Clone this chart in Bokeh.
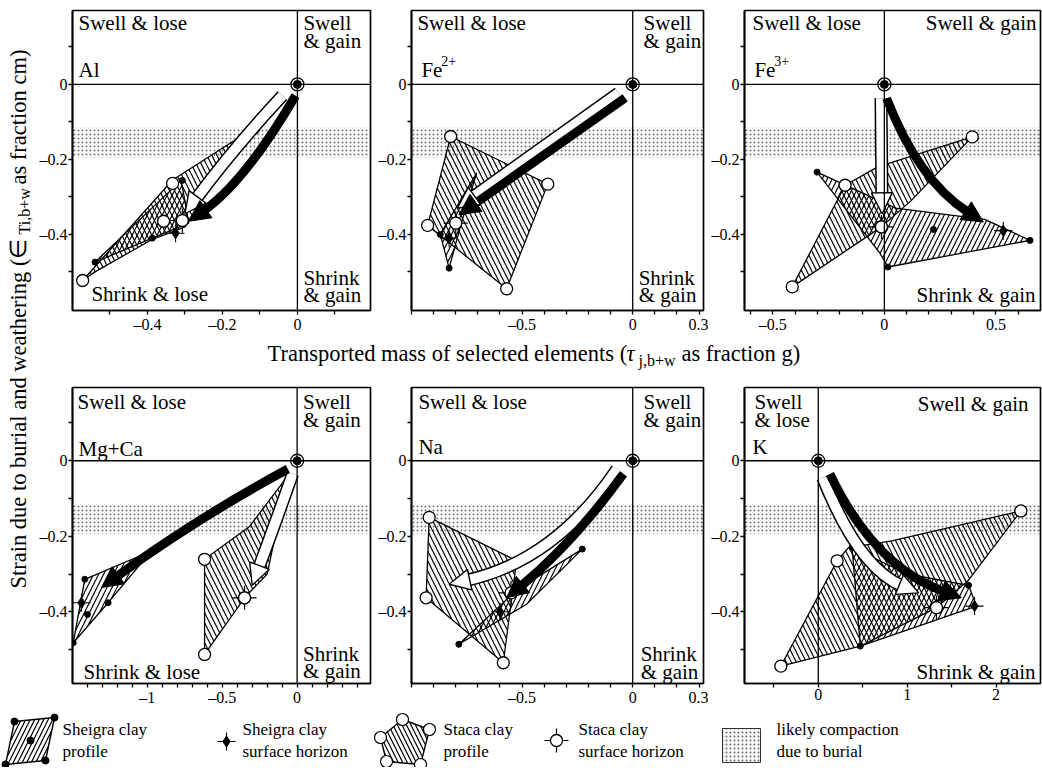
import math
from bokeh.plotting import figure
from bokeh.layouts import row, column
from bokeh.models import Range1d, FixedTicker, Span, Arrow, NormalHead, CustomJSTickFormatter
from bokeh.core.properties import value
from bokeh.embed import file_html
from bokeh.resources import INLINE

SERIF = "Liberation Serif"
ASC = 0.891  # ascent of the serif face, in em (used to place text by its baseline)

# ------------------------------------------------------------------ shared axes
TOP_Y_RANGE = (-0.603, 0.197)
BOT_Y_RANGE = (-0.59, 0.194)
Y_MAJOR = [-0.4, -0.2, 0.0]
Y_MINOR = [-0.5, -0.3, -0.1, 0.1]
COMPACTION_TOP = -0.115
COMPACTION_BOTTOM = -0.195

# ------------------------------------------------------------------ Al
AL_X_RANGE = (-0.6, 0.195)
AL_X_MAJOR = [-0.4, -0.2, 0.0]
AL_X_MINOR = [-0.5, -0.3, -0.1, 0.1]
AL_STACA_X = [-0.573, -0.333, -0.117, -0.25, -0.30, -0.39, -0.54]
AL_STACA_Y = [-0.523, -0.255, -0.117, -0.30, -0.38, -0.415, -0.50]
AL_SHEIGRA_X = [-0.54, -0.31, -0.29, -0.387]
AL_SHEIGRA_Y = [-0.474, -0.256, -0.37, -0.41]
AL_STACA_PTS_X = [-0.573, -0.333, -0.357, -0.117]
AL_STACA_PTS_Y = [-0.523, -0.264, -0.365, -0.117]
AL_SHEIGRA_PTS_X = [-0.54, -0.387, -0.307]
AL_SHEIGRA_PTS_Y = [-0.474, -0.41, -0.256]
AL_SHEIGRA_SURF = (-0.325, -0.397)
AL_STACA_SURF = (-0.307, -0.363)
AL_WHITE = [(-0.04, -0.03), (-0.17, -0.17), (-0.30, -0.345)]
AL_BLACK = [(-0.005, -0.03), (-0.14, -0.26), (-0.29, -0.365)]

# ------------------------------------------------------------------ Fe2+
FE2_X_RANGE = (-1.0, 0.32)
FE2_X_MAJOR = [-0.5, 0.0, 0.3]
FE2_X_MINOR = [-1.0, -0.9, -0.8, -0.7, -0.6, -0.4, -0.3, -0.2, -0.1, 0.1, 0.2]
FE2_STACA_X = [-0.823, -0.384, -0.570, -0.927]
FE2_STACA_Y = [-0.139, -0.266, -0.545, -0.376]
FE2_SHEIGRA_X = [-0.83, -0.87, -0.705, -0.77]
FE2_SHEIGRA_Y = [-0.49, -0.40, -0.236, -0.36]
FE2_STACA_PTS_X = [-0.823, -0.384, -0.570, -0.927]
FE2_STACA_PTS_Y = [-0.139, -0.266, -0.545, -0.376]
FE2_SHEIGRA_PTS_X = [-0.83, -0.87]
FE2_SHEIGRA_PTS_Y = [-0.49, -0.40]
FE2_SHEIGRA_SURF = (-0.83, -0.41)
FE2_STACA_SURF = (-0.80, -0.37)
FE2_WHITE = [(-0.064, -0.023), (-0.43, -0.177), (-0.793, -0.33)]
FE2_BLACK = [(-0.034, -0.036), (-0.41, -0.192), (-0.786, -0.348)]

# ------------------------------------------------------------------ Fe3+
FE3_X_RANGE = (-0.627, 0.70)
FE3_X_MAJOR = [-0.5, 0.0, 0.5]
FE3_X_MINOR = [-0.6, -0.4, -0.3, -0.2, -0.1, 0.1, 0.2, 0.3, 0.4, 0.6]
FE3_STACA_X = [-0.413, -0.176, -0.03, 0.394, 0.12, -0.013]
FE3_STACA_Y = [-0.540, -0.269, -0.22, -0.140, -0.31, -0.380]
FE3_SHEIGRA_X = [-0.302, 0.05, 0.45, 0.653, 0.016, -0.02]
FE3_SHEIGRA_Y = [-0.234, -0.33, -0.36, -0.416, -0.487, -0.45]
FE3_STACA_PTS_X = [-0.413, -0.176, -0.013, 0.394]
FE3_STACA_PTS_Y = [-0.540, -0.269, -0.380, -0.140]
FE3_SHEIGRA_PTS_X = [-0.302, 0.653, 0.016, 0.22]
FE3_SHEIGRA_PTS_Y = [-0.234, -0.416, -0.487, -0.387]
FE3_SHEIGRA_SURF = (0.533, -0.39)
FE3_STACA_SURF = (-0.013, -0.38)
FE3_WHITE = [(-0.015, -0.037), (-0.013, -0.19), (-0.01, -0.345)]
FE3_BLACK = [(0.01, -0.037), (0.152, -0.256), (0.444, -0.367)]

# ------------------------------------------------------------------ Mg+Ca
MGCA_X_RANGE = (-1.5, 0.49)
MGCA_X_MAJOR = [-1.0, -0.5, 0.0]
MGCA_X_MINOR = [-1.4, -1.3, -1.2, -1.1, -0.9, -0.8, -0.7, -0.6, -0.4, -0.3, -0.2, -0.1, 0.1, 0.2, 0.3, 0.4]
MGCA_STACA_X = [-0.618, -0.32, -0.062, -0.20, -0.351, -0.618]
MGCA_STACA_Y = [-0.261, -0.175, -0.04, -0.30, -0.363, -0.513]
MGCA_SHEIGRA_X = [-1.495, -1.418, -0.973, -1.262]
MGCA_SHEIGRA_Y = [-0.482, -0.314, -0.239, -0.376]
MGCA_STACA_PTS_X = [-0.618, -0.618, -0.351]
MGCA_STACA_PTS_Y = [-0.261, -0.513, -0.363]
MGCA_SHEIGRA_PTS_X = [-1.418, -0.973, -1.262, -1.40, -1.495]
MGCA_SHEIGRA_PTS_Y = [-0.314, -0.239, -0.376, -0.407, -0.482]
MGCA_SHEIGRA_SURF = (-1.44, -0.376)
MGCA_STACA_SURF = (-0.351, -0.363)
MGCA_WHITE = [(-0.03, -0.035), (-0.15, -0.17), (-0.30, -0.33)]
MGCA_BLACK = [(-0.062, -0.022), (-0.66, -0.15), (-1.307, -0.336)]

# ------------------------------------------------------------------ Na
NA_X_RANGE = (-1.0, 0.32)
NA_X_MAJOR = [-0.5, 0.0, 0.3]
NA_X_MINOR = [-1.0, -0.9, -0.8, -0.7, -0.6, -0.4, -0.3, -0.2, -0.1, 0.1, 0.2]
NA_STACA_X = [-0.920, -0.525, -0.585, -0.934]
NA_STACA_Y = [-0.150, -0.265, -0.535, -0.363]
NA_SHEIGRA_X = [-0.786, -0.52, -0.228, -0.48]
NA_SHEIGRA_Y = [-0.486, -0.34, -0.234, -0.38]
NA_STACA_PTS_X = [-0.920, -0.934, -0.585]
NA_STACA_PTS_Y = [-0.150, -0.363, -0.535]
NA_SHEIGRA_PTS_X = [-0.786, -0.228, -0.52]
NA_SHEIGRA_PTS_Y = [-0.486, -0.234, -0.34]
NA_SHEIGRA_SURF = (-0.60, -0.40)
NA_STACA_SURF = (-0.55, -0.35)
NA_WHITE = [(-0.071, -0.022), (-0.35, -0.265), (-0.830, -0.327)]
NA_BLACK = [(-0.042, -0.035), (-0.274, -0.221), (-0.570, -0.363)]

# ------------------------------------------------------------------ K
K_X_RANGE = (-0.83, 2.50)
K_X_MAJOR = [0.0, 1.0, 2.0]
K_X_MINOR = [-0.5, 0.5, 1.5]
K_STACA_X = [-0.421, 0.212, 0.34, 0.827, 2.279, 1.684, 1.33, 0.473]
K_STACA_Y = [-0.544, -0.265, -0.23, -0.212, -0.133, -0.318, -0.389, -0.491]
K_SHEIGRA_X = [0.38, 1.0, 1.69, 1.78, 0.473]
K_SHEIGRA_Y = [-0.23, -0.30, -0.33, -0.385, -0.491]
K_STACA_PTS_X = [-0.421, 0.212, 1.33, 2.279]
K_STACA_PTS_Y = [-0.544, -0.265, -0.389, -0.133]
K_SHEIGRA_PTS_X = [0.38, 0.473, 1.69]
K_SHEIGRA_PTS_Y = [-0.23, -0.491, -0.33]
K_SHEIGRA_SURF = (1.758, -0.385)
K_STACA_SURF = (1.33, -0.389)
K_WHITE = [(0.05, -0.045), (0.45, -0.2825), (1.13, -0.35)]
K_BLACK = [(0.13, -0.035), (0.63, -0.281), (1.61, -0.363)]

# ------------------------------------------------------------------ helpers
MINUS_FMT = CustomJSTickFormatter(code="return tick < 0 ? '\u2013' + Math.abs(tick) : '' + tick;")


def txt(p, x, y, s, size=21, align="left", style="normal", angle=0.0):
    """(x, y) is the top of the text box"""
    p.text(x=[x], y=[y], text=[s], text_font=value(SERIF), text_font_size=f"{size}px",
           text_align=align, text_baseline="top", text_font_style=style,
           text_color="black", angle=angle)


def draw_arrow(p, sx, sy, pts, kind):
    start, ctrl, tip = pts
    dxp = (tip[0] - ctrl[0]) * sx
    dyp = (tip[1] - ctrl[1]) * sy
    n = math.hypot(dxp, dyp)
    ux, uy = dxp / n, dyp / n
    head = 21
    base = (tip[0] - ux * head / sx, tip[1] - uy * head / sy)
    bend = (tip[0] - ux * (head - 3) / sx, tip[1] - uy * (head - 3) / sy)
    q = dict(x0=[start[0]], y0=[start[1]], x1=[bend[0]], y1=[bend[1]], cx=[ctrl[0]], cy=[ctrl[1]])
    if kind == "white":
        p.quadratic(**q, line_color="black", line_width=13)
        p.add_layout(Arrow(end=NormalHead(size=head, fill_color="white", line_color="black", line_width=1.4),
                           x_start=base[0], y_start=base[1], x_end=tip[0], y_end=tip[1],
                           line_alpha=0, level="glyph"))
        p.quadratic(**q, line_color="white", line_width=10)
    else:
        p.quadratic(**q, line_color="black", line_width=9)
        p.add_layout(Arrow(end=NormalHead(size=head, fill_color="black", line_color="black", line_width=1),
                           x_start=base[0], y_start=base[1], x_end=tip[0], y_end=tip[1],
                           line_alpha=0, level="glyph"))


def surf_markers(p, sheigra, staca):
    p.scatter([staca[0]], [staca[1]], marker="cross", size=24, line_color="black", line_width=1.2)
    p.scatter([staca[0]], [staca[1]], marker="circle", size=12, fill_color="white", line_color="black", line_width=1.3)
    p.scatter([sheigra[0]], [sheigra[1]], marker="cross", size=18, line_color="black", line_width=1.1)
    p.scatter([sheigra[0]], [sheigra[1]], marker="diamond", size=11, fill_color="black", line_color="black")


def make_panel(xr, yr, xmaj, xmin, fw, fh, bl, br, bt, bb,
               staca, sheigra, staca_pts, sheigra_pts, sheigra_surf, staca_surf, white, black):
    p = figure(width=bl + fw + br, height=bt + fh + bb, x_range=Range1d(*xr), y_range=Range1d(*yr),
               output_backend="svg", toolbar_location=None,
               min_border_left=bl, min_border_right=br, min_border_top=bt, min_border_bottom=bb)
    p.grid.visible = False
    p.outline_line_color = "black"
    p.outline_line_width = 1.7
    for ax, maj, mn in ((p.xaxis[0], xmaj, xmin), (p.yaxis[0], Y_MAJOR, Y_MINOR)):
        ax.ticker = FixedTicker(ticks=maj, minor_ticks=mn)
        ax.formatter = MINUS_FMT
        ax.major_tick_out = 4
        ax.minor_tick_out = 4
        ax.major_tick_in = 0
        ax.minor_tick_in = 0
        ax.major_tick_line_width = 1.3
        ax.minor_tick_line_width = 1.3
        ax.axis_line_width = 1.7
        ax.major_label_standoff = 1
        ax.major_label_text_font = SERIF
        ax.major_label_text_font_size = "16px"
        ax.major_label_text_color = "black"
    sx = fw / (xr[1] - xr[0])
    sy = fh / (yr[1] - yr[0])
    # likely compaction due to burial
    p.quad(left=[xr[0]], right=[xr[1]], top=[COMPACTION_TOP], bottom=[COMPACTION_BOTTOM],
           fill_color=None, line_color=None, hatch_pattern=".", hatch_scale=4,
           hatch_weight=1.0, hatch_color="black", hatch_alpha=0.55)
    p.add_layout(Span(location=0, dimension="width", line_color="black", line_width=1.3))
    p.add_layout(Span(location=0, dimension="height", line_color="black", line_width=1.3))
    # clay profiles
    p.patch(staca[0], staca[1], fill_color=None, line_color="black", line_width=1.3,
            hatch_pattern="\\", hatch_scale=10, hatch_weight=1.2, hatch_color="black")
    p.patch(sheigra[0], sheigra[1], fill_color=None, line_color="black", line_width=1.3,
            hatch_pattern="/", hatch_scale=10, hatch_weight=1.2, hatch_color="black")
    p.scatter(sheigra_pts[0], sheigra_pts[1], marker="circle", size=6, fill_color="black", line_color="black")
    p.scatter(staca_pts[0], staca_pts[1], marker="circle", size=12, fill_color="white",
              line_color="black", line_width=1.3)
    # trajectories
    draw_arrow(p, sx, sy, white, "white")
    draw_arrow(p, sx, sy, black, "black")
    surf_markers(p, sheigra_surf, staca_surf)
    # parent material at the origin
    p.scatter([0], [0], marker="circle", size=13, fill_color="white", line_color="black", line_width=1.3)
    p.scatter([0], [0], marker="circle", size=8, fill_color="black", line_color="black")

    # position helpers: pixel distances from frame edges -> data; y helpers give the text top
    def at_left(px):
        return xr[0] + px / sx

    def at_right(px):
        return xr[1] - px / sx

    def at_zero(px):
        return px / sx

    def base_below_top(px, size=21):
        return yr[1] - (px - ASC * size) / sy

    def base_above_bottom(px, size=21):
        return yr[0] + (px + ASC * size) / sy

    def base_above_zero(px, size=21):
        return (px + ASC * size) / sy

    return p, (at_left, at_right, at_zero, base_below_top, base_above_bottom, base_above_zero)


TOP = dict(fh=300, bt=10, bb=26)
BOT = dict(fh=296, bt=15, bb=27)
COLS = [dict(fw=299, bl=35, br=5), dict(fw=295, bl=33, br=5), dict(fw=298, bl=34, br=2)]

# ---------------- Al
p1, (xl, xr_, x0, bt_, bb_, bz) = make_panel(
    AL_X_RANGE, TOP_Y_RANGE, AL_X_MAJOR, AL_X_MINOR, **COLS[0], **TOP,
    staca=(AL_STACA_X, AL_STACA_Y), sheigra=(AL_SHEIGRA_X, AL_SHEIGRA_Y),
    staca_pts=(AL_STACA_PTS_X, AL_STACA_PTS_Y), sheigra_pts=(AL_SHEIGRA_PTS_X, AL_SHEIGRA_PTS_Y),
    sheigra_surf=AL_SHEIGRA_SURF, staca_surf=AL_STACA_SURF, white=AL_WHITE, black=AL_BLACK)
txt(p1, xl(6), bt_(19), "Swell & lose")
txt(p1, x0(6), bt_(19), "Swell")
txt(p1, x0(6), bt_(37), "& gain")
txt(p1, xl(6), bz(8), "Al")
txt(p1, xl(19), bb_(10), "Shrink & lose")
txt(p1, x0(6), bb_(26), "Shrink")
txt(p1, x0(6), bb_(9), "& gain")

# ---------------- Fe2+
p2, (xl, xr_, x0, bt_, bb_, bz) = make_panel(
    FE2_X_RANGE, TOP_Y_RANGE, FE2_X_MAJOR, FE2_X_MINOR, **COLS[1], **TOP,
    staca=(FE2_STACA_X, FE2_STACA_Y), sheigra=(FE2_SHEIGRA_X, FE2_SHEIGRA_Y),
    staca_pts=(FE2_STACA_PTS_X, FE2_STACA_PTS_Y), sheigra_pts=(FE2_SHEIGRA_PTS_X, FE2_SHEIGRA_PTS_Y),
    sheigra_surf=FE2_SHEIGRA_SURF, staca_surf=FE2_STACA_SURF, white=FE2_WHITE, black=FE2_BLACK)
txt(p2, xl(6), bt_(19), "Swell & lose")
txt(p2, x0(11), bt_(19), "Swell")
txt(p2, x0(11), bt_(37), "& gain")
txt(p2, xl(10), bz(8), "Fe")
txt(p2, xl(30), bz(16, 14), "2+", size=14)
txt(p2, x0(6), bb_(26), "Shrink")
txt(p2, x0(6), bb_(9), "& gain")

# ---------------- Fe3+
p3, (xl, xr_, x0, bt_, bb_, bz) = make_panel(
    FE3_X_RANGE, TOP_Y_RANGE, FE3_X_MAJOR, FE3_X_MINOR, **COLS[2], **TOP,
    staca=(FE3_STACA_X, FE3_STACA_Y), sheigra=(FE3_SHEIGRA_X, FE3_SHEIGRA_Y),
    staca_pts=(FE3_STACA_PTS_X, FE3_STACA_PTS_Y), sheigra_pts=(FE3_SHEIGRA_PTS_X, FE3_SHEIGRA_PTS_Y),
    sheigra_surf=FE3_SHEIGRA_SURF, staca_surf=FE3_STACA_SURF, white=FE3_WHITE, black=FE3_BLACK)
txt(p3, xl(8), bt_(19), "Swell & lose")
txt(p3, xr_(4), bt_(19), "Swell & gain", align="right")
txt(p3, xl(10), bz(8), "Fe")
txt(p3, xl(30), bz(16, 14), "3+", size=14)
txt(p3, xr_(5), bb_(9), "Shrink & gain", align="right")

# ---------------- Mg+Ca
p4, (xl, xr_, x0, bt_, bb_, bz) = make_panel(
    MGCA_X_RANGE, BOT_Y_RANGE, MGCA_X_MAJOR, MGCA_X_MINOR, **COLS[0], **BOT,
    staca=(MGCA_STACA_X, MGCA_STACA_Y), sheigra=(MGCA_SHEIGRA_X, MGCA_SHEIGRA_Y),
    staca_pts=(MGCA_STACA_PTS_X, MGCA_STACA_PTS_Y), sheigra_pts=(MGCA_SHEIGRA_PTS_X, MGCA_SHEIGRA_PTS_Y),
    sheigra_surf=MGCA_SHEIGRA_SURF, staca_surf=MGCA_STACA_SURF, white=MGCA_WHITE, black=MGCA_BLACK)
txt(p4, xl(5), bt_(21), "Swell & lose")
txt(p4, x0(6), bt_(21), "Swell")
txt(p4, x0(6), bt_(39), "& gain")
txt(p4, xl(6), bz(5), "Mg+Ca")
txt(p4, xl(11), bb_(5), "Shrink & lose")
txt(p4, x0(6), bb_(23), "Shrink")
txt(p4, x0(6), bb_(6), "& gain")

# ---------------- Na
p5, (xl, xr_, x0, bt_, bb_, bz) = make_panel(
    NA_X_RANGE, BOT_Y_RANGE, NA_X_MAJOR, NA_X_MINOR, **COLS[1], **BOT,
    staca=(NA_STACA_X, NA_STACA_Y), sheigra=(NA_SHEIGRA_X, NA_SHEIGRA_Y),
    staca_pts=(NA_STACA_PTS_X, NA_STACA_PTS_Y), sheigra_pts=(NA_SHEIGRA_PTS_X, NA_SHEIGRA_PTS_Y),
    sheigra_surf=NA_SHEIGRA_SURF, staca_surf=NA_STACA_SURF, white=NA_WHITE, black=NA_BLACK)
txt(p5, xl(7), bt_(21), "Swell & lose")
txt(p5, x0(11), bt_(21), "Swell")
txt(p5, x0(11), bt_(39), "& gain")
txt(p5, xl(7), bz(7), "Na")
txt(p5, x0(8), bb_(23), "Shrink")
txt(p5, x0(8), bb_(5), "& gain")

# ---------------- K
p6, (xl, xr_, x0, bt_, bb_, bz) = make_panel(
    K_X_RANGE, BOT_Y_RANGE, K_X_MAJOR, K_X_MINOR, **COLS[2], **BOT,
    staca=(K_STACA_X, K_STACA_Y), sheigra=(K_SHEIGRA_X, K_SHEIGRA_Y),
    staca_pts=(K_STACA_PTS_X, K_STACA_PTS_Y), sheigra_pts=(K_SHEIGRA_PTS_X, K_SHEIGRA_PTS_Y),
    sheigra_surf=K_SHEIGRA_SURF, staca_surf=K_STACA_SURF, white=K_WHITE, black=K_BLACK)
txt(p6, xl(10), bt_(21), "Swell")
txt(p6, xl(10), bt_(39), "& lose")
txt(p6, xl(8), bz(7), "K")
txt(p6, xr_(12), bt_(23), "Swell & gain", align="right")
txt(p6, xr_(5), bb_(5), "Shrink & gain", align="right")


# ------------------------------------------------------------------ text-only strips
def blank(w, h, xr, yr):
    f = figure(width=w, height=h, x_range=Range1d(*xr), y_range=Range1d(*yr),
               output_backend="svg", toolbar_location=None,
               min_border=0, min_border_left=0, min_border_right=0, min_border_top=0, min_border_bottom=0)
    f.axis.visible = False
    f.grid.visible = False
    f.outline_line_color = None
    return f


TITLE_SIZE = 22.5
SUB_SIZE = 16

# y axis title, placed in page pixels (text reads upward; its top faces left)
ylab = blank(36, 710, (0, 36), (710, 0))
txt(ylab, 26 - ASC * TITLE_SIZE, 588, "Strain due to burial and weathering (\u2208", size=TITLE_SIZE, angle=math.pi / 2)
txt(ylab, 30 - ASC * SUB_SIZE, 234, "Ti,b+w", size=SUB_SIZE, angle=math.pi / 2)
txt(ylab, 26 - ASC * TITLE_SIZE, 184, "as fraction cm)", size=TITLE_SIZE, angle=math.pi / 2)

# x axis title
xlab = blank(1006, 36, (36, 1042), (372, 336))
txt(xlab, 267, 361 - ASC * TITLE_SIZE, "Transported mass of selected elements (", size=TITLE_SIZE)
txt(xlab, 626, 361 - ASC * TITLE_SIZE, "\u03c4", size=TITLE_SIZE, style="italic")
txt(xlab, 638, 366 - ASC * SUB_SIZE, "j,b+w", size=SUB_SIZE)
txt(xlab, 681, 361 - ASC * TITLE_SIZE, "as fraction g)", size=TITLE_SIZE)

# ------------------------------------------------------------------ legend
LEG_SHEIGRA_ICON_X = [5, 14, 54, 45]
LEG_SHEIGRA_ICON_Y = [764, 721, 717, 760]
LEG_STACA_ICON_X = [380, 402, 429, 420, 386]
LEG_STACA_ICON_Y = [737, 719, 729, 764, 761]
LEG_BAND_X = [722, 760, 760, 722]
LEG_BAND_Y = [728, 728, 762, 762]

leg = blank(1042, 57, (0, 1042), (767, 710))
leg.patch(LEG_SHEIGRA_ICON_X, LEG_SHEIGRA_ICON_Y, fill_color=None, line_color="black", line_width=1.4,
          hatch_pattern="/", hatch_scale=9, hatch_weight=1.2, hatch_color="black")
leg.scatter(LEG_SHEIGRA_ICON_X + [30], LEG_SHEIGRA_ICON_Y + [740], marker="circle", size=7,
            fill_color="black", line_color="black")
leg.patch(LEG_STACA_ICON_X, LEG_STACA_ICON_Y, fill_color=None, line_color="black", line_width=1.4,
          hatch_pattern="\\", hatch_scale=9, hatch_weight=1.2, hatch_color="black")
leg.scatter(LEG_STACA_ICON_X, LEG_STACA_ICON_Y, marker="circle", size=12, fill_color="white",
            line_color="black", line_width=1.2)
surf_markers(leg, (226, 741), (556, 740))
leg.patch(LEG_BAND_X, LEG_BAND_Y, fill_color=None, line_color="black", line_width=0.8,
          hatch_pattern=".", hatch_scale=4, hatch_weight=1.0, hatch_color="black", hatch_alpha=0.6)
for lx, l1, l2 in ((62, "Sheigra clay", "profile"), (242, "Sheigra clay", "surface horizon"),
                   (443, "Staca clay", "profile"), (578, "Staca clay", "surface horizon"),
                   (776, "likely compaction", "due to burial")):
    txt(leg, lx, 735 - ASC * 17, l1, size=17)
    txt(leg, lx, 757 - ASC * 17, l2, size=17)

layout = column(row(ylab, column(row(p1, p2, p3), xlab, row(p4, p5, p6))), leg)
open("out.html", "w").write(file_html(layout, INLINE))
